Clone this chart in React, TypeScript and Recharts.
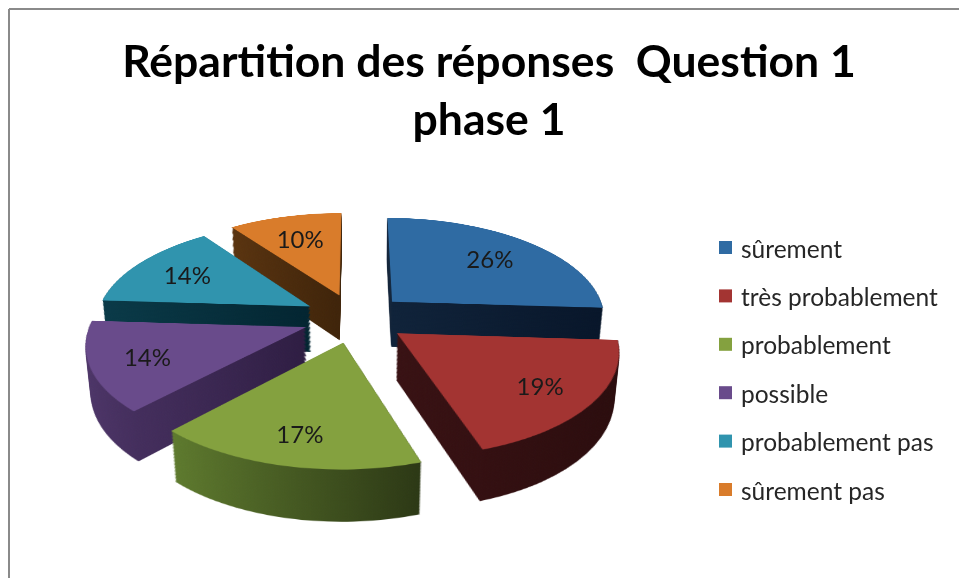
import { PieChart, Pie, Cell } from "recharts";

const categories = [
  "sûrement",
  "très probablement",
  "probablement",
  "possible",
  "probablement pas",
  "sûrement pas",
];
const shares = [26, 19, 17, 14, 14, 10];
const topColors = ["#2F6BA3", "#A33432", "#84A13F", "#694B8B", "#3094AE", "#D97C2B"];
const sideLight = ["#10233A", "#381113", "#5E7A2E", "#4E3669", "#0A3A48", "#5A3410"];
const sideDark = ["#08162A", "#2A0C0D", "#2C3815", "#2E1D42", "#032531", "#3F240A"];

const titleLines = ["Répartition des réponses  Question 1", "phase 1"];

const RAD = Math.PI / 180;

// 3d look: the flat pie is tilted back with css perspective,
// its thickness is a stack of copies pushed down along the plane normal
const TILT = 62;
const PERSP = 1300;
const COS = Math.cos(TILT * RAD);
const SIN = Math.sin(TILT * RAD);
const CX = 355;
const CY = 290; // pie centre inside the tilted plane
const SCREEN_CY = 318;
const R = 214;
const EXPLODE = 52;
const DEPTH = 53;
const STEP = 1.5;
const FONT = "Lato, 'Open Sans', sans-serif";

const data = categories.map((name, i) => ({ name, value: shares[i] }));
const total = shares.reduce((a, b) => a + b, 0);

// mid angle of each slice, clockwise from 12 o'clock
const midAngles: number[] = [];
{
  let start = 90;
  shares.forEach((v) => {
    const span = (v / total) * 360;
    midAngles.push(start - span / 2);
    start -= span;
  });
}

// same projection the browser applies to the top plane
function project(x: number, y: number) {
  const X = x - CX;
  const Y = y - CY;
  const s = PERSP / (PERSP - Y * SIN);
  return { x: CX + X * s, y: SCREEN_CY + Y * COS * s };
}

function makeLabel(i: number) {
  return (props: any) => {
    if (props.index !== i) return null;
    const { cx, cy, midAngle, outerRadius, percent } = props;
    const r = outerRadius * (0.73 - 0.04 * Math.sin(midAngle * RAD));
    const p = project(
      cx + r * Math.cos(-midAngle * RAD),
      cy + r * Math.sin(-midAngle * RAD)
    );
    return (
      <text
        x={p.x}
        y={p.y}
        textAnchor="middle"
        dominantBaseline="central"
        fontFamily={FONT}
        fontSize={24}
        fill="#1a1a1a"
      >
        {Math.round(percent * 100)}%
      </text>
    );
  };
}

function sliceCentre(i: number) {
  const a = midAngles[i] * RAD;
  return { cx: CX + EXPLODE * Math.cos(a), cy: CY - EXPLODE * Math.sin(a) };
}

const PLANE_W = 700;
const PLANE_H = 600;

function Plane({ depth, side }: { depth: number; side: boolean }) {
  return (
    <div
      style={{
        position: "absolute",
        left: 0,
        top: SCREEN_CY - CY,
        width: PLANE_W,
        height: PLANE_H,
        transform: `perspective(${PERSP}px) rotateX(${TILT}deg) translateZ(${-depth}px)`,
        transformOrigin: `${CX}px ${CY}px`,
      }}
    >
      <PieChart width={PLANE_W} height={PLANE_H} margin={{ top: 0, right: 0, bottom: 0, left: 0 }}>
        {categories.map((_, i) => {
          const c = sliceCentre(i);
          return (
            <Pie
              key={i}
              data={data}
              dataKey="value"
              nameKey="name"
              cx={c.cx}
              cy={c.cy}
              outerRadius={R}
              startAngle={90}
              endAngle={-270}
              stroke="none"
              isAnimationActive={false}
              labelLine={false}
              label={false}
            >
              {data.map((d, j) => (
                <Cell
                  key={d.name}
                  fill={j === i ? (side ? `url(#side-${i})` : topColors[i]) : "none"}
                  stroke="none"
                />
              ))}
            </Pie>
          );
        })}
      </PieChart>
    </div>
  );
}

const layers: number[] = [];
for (let d = DEPTH; d > 0; d -= STEP) layers.push(d);

export default function App() {
  return (
    <div
      style={{
        position: "absolute",
        left: 0,
        top: 0,
        width: 959,
        height: 578,
        overflow: "hidden",
        background: "#fff",
      }}
    >
      <svg width={0} height={0} style={{ position: "absolute" }}>
        <defs>
          {categories.map((c, i) => (
            <linearGradient key={c} id={`side-${i}`} x1="0" y1="0" x2="1" y2="0">
              <stop offset="0%" stopColor={sideLight[i]} />
              <stop offset="100%" stopColor={sideDark[i]} />
            </linearGradient>
          ))}
        </defs>
      </svg>
      {layers.map((d) => (
        <Plane key={d} depth={d} side />
      ))}
      <Plane depth={0} side={false} />
      <div style={{ position: "absolute", left: 0, top: 0 }}>
        <PieChart width={959} height={578} margin={{ top: 0, right: 0, bottom: 0, left: 0 }}>
          {categories.map((_, i) => {
            const c = sliceCentre(i);
            return (
              <Pie
                key={i}
                data={data}
                dataKey="value"
                nameKey="name"
                cx={c.cx}
                cy={c.cy}
                outerRadius={R}
                startAngle={90}
                endAngle={-270}
                fill="none"
                stroke="none"
                isAnimationActive={false}
                labelLine={false}
                label={makeLabel(i)}
              />
            );
          })}
        </PieChart>
      </div>
      <svg width={959} height={578} style={{ position: "absolute", left: 0, top: 0, pointerEvents: "none" }}>
        <line x1={9} y1={9} x2={959} y2={9} stroke="#8a8a8a" strokeWidth={2} />
        <line x1={9} y1={9} x2={9} y2={578} stroke="#8a8a8a" strokeWidth={2} />
        <text x={489} y={77} textAnchor="middle" fontFamily={FONT} fontWeight={700} fontSize={44.5} fill="#000" xmlSpace="preserve">
          {titleLines[0]}
        </text>
        <text x={489} y={135} textAnchor="middle" fontFamily={FONT} fontWeight={700} fontSize={44.5} fill="#000">
          {titleLines[1]}
        </text>
        {categories.map((c, i) => {
          const y = 248 + i * 48.4;
          return (
            <g key={c}>
              <rect x={719} y={y - 7} width={13} height={13} fill={topColors[i]} />
              <text x={741} y={y} dominantBaseline="central" fontFamily={FONT} fontSize={24.5} fill="#262626">
                {c}
              </text>
            </g>
          );
        })}
      </svg>
    </div>
  );
}
